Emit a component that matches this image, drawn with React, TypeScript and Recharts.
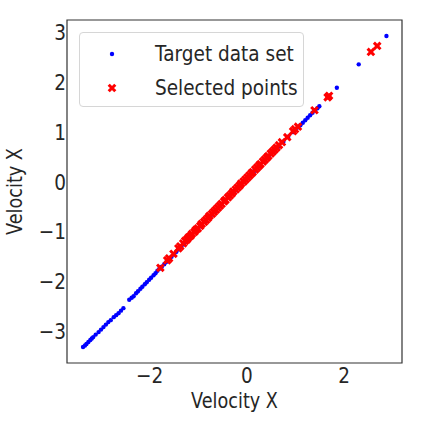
import { Legend, ReferenceArea, Scatter, ScatterChart, XAxis, YAxis } from "recharts";

// [velocity x, velocity x]
const targetPoints: [number, number][] = [
  [-3.37, -3.32], [-3.33, -3.29], [-3.3, -3.26], [-3.26, -3.22], [-3.22, -3.18],
  [-3.19, -3.15], [-3.16, -3.12], [-3.11, -3.07], [-3.05, -3.02], [-3.0, -2.97],
  [-2.95, -2.92], [-2.9, -2.87], [-2.85, -2.82], [-2.8, -2.78], [-2.74, -2.72],
  [-2.69, -2.68], [-2.64, -2.64], [-2.59, -2.59], [-2.54, -2.54], [-2.42, -2.37],
  [-2.37, -2.33], [-2.33, -2.3], [-2.28, -2.24], [-2.24, -2.2], [-2.19, -2.15],
  [-2.15, -2.11], [-2.1, -2.06], [-2.06, -2.02], [-2.01, -1.97], [-1.97, -1.93],
  [-1.92, -1.88], [-1.88, -1.84], [-1.84, -1.79], [-1.8, -1.75], [-1.75, -1.71],
  [-1.7, -1.66], [-1.65, -1.61], [-1.6, -1.56], [-1.55, -1.51], [-1.5, -1.46],
  [-1.45, -1.41], [-1.4, -1.36], [-1.35, -1.31], [-1.3, -1.26], [-1.25, -1.21],
  [-1.15, -1.1], [-1.05, -1.0], [-0.95, -0.9], [-0.85, -0.8], [-0.75, -0.7],
  [-0.65, -0.59], [-0.55, -0.49], [-0.45, -0.39], [-0.35, -0.29], [-0.25, -0.19],
  [-0.15, -0.09], [-0.05, 0.01], [0.05, 0.11], [0.15, 0.21], [0.25, 0.31],
  [0.35, 0.41], [0.45, 0.51], [0.55, 0.6], [0.65, 0.7], [0.75, 0.8],
  [0.85, 0.9], [0.95, 0.99], [1.0, 1.04], [1.05, 1.09], [1.1, 1.13],
  [1.15, 1.18], [1.2, 1.23], [1.25, 1.28], [1.3, 1.33], [1.35, 1.38],
  [1.4, 1.43], [1.45, 1.47], [1.49, 1.51], [1.85, 1.88], [2.3, 2.35],
  [2.87, 2.92],
];

const selectedPoints: [number, number][] = [
  [-1.78, -1.73], [-1.64, -1.58], [-1.6, -1.54], [-1.51, -1.45], [-1.41, -1.34],
  [-1.37, -1.3], [-1.31, -1.24], [-1.27, -1.19], [-1.23, -1.16], [-1.2, -1.12],
  [-1.16, -1.09], [-1.13, -1.05], [-1.08, -1.01], [-1.05, -0.97], [-1.01, -0.94],
  [-0.96, -0.89], [-0.93, -0.85], [-0.88, -0.81], [-0.84, -0.77], [-0.8, -0.73],
  [-0.77, -0.69], [-0.72, -0.65], [-0.68, -0.61], [-0.64, -0.57], [-0.6, -0.53],
  [-0.56, -0.49], [-0.52, -0.45], [-0.47, -0.4], [-0.44, -0.37], [-0.39, -0.32],
  [-0.35, -0.28], [-0.31, -0.24], [-0.28, -0.2], [-0.23, -0.16], [-0.19, -0.12],
  [-0.15, -0.08], [-0.12, -0.04], [-0.07, 0.0], [-0.03, 0.04], [0.01, 0.08],
  [0.05, 0.12], [0.09, 0.16], [0.12, 0.19], [0.17, 0.24], [0.21, 0.28],
  [0.25, 0.32], [0.28, 0.35], [0.33, 0.4], [0.37, 0.44], [0.41, 0.48],
  [0.44, 0.51], [0.49, 0.56], [0.53, 0.6], [0.57, 0.64], [0.61, 0.68],
  [0.66, 0.73], [0.72, 0.79], [0.83, 0.89], [0.95, 1.01], [0.99, 1.05],
  [1.05, 1.1], [1.39, 1.43], [1.66, 1.69], [1.69, 1.72], [2.55, 2.6],
  [2.68, 2.72],
];

const xTicks = [-2, 0, 2];
const yTicks = [-3, -2, -1, 0, 1, 2, 3];
const xDomain: [number, number] = [-3.7, 3.19];
const yDomain: [number, number] = [-3.64, 3.24];
const seriesNames = ["Target data set", "Selected points"];
const axisTitle = "Velocity X";

const targetData = targetPoints.map(([vx, vy]) => ({ vx, vy }));
const selectedData = selectedPoints.map(([vx, vy]) => ({ vx, vy }));

const font = "'DejaVu Sans', sans-serif";
const ink = "#262626";
const squeeze = 0.84;

const fmt = (v: number) => (v < 0 ? `\u2212${Math.abs(v)}` : `${v}`);

const XTick = (props: any) => (
  <g transform={`translate(${props.x},${props.y + 20})`}>
    <text transform={`scale(${squeeze},1)`} textAnchor="middle" fill={ink} fontSize={22} fontFamily={font}>
      {fmt(props.payload.value)}
    </text>
  </g>
);

const YTick = (props: any) => (
  <g transform={`translate(${props.x - 1},${props.y + 8})`}>
    <text transform={`scale(${squeeze},1)`} textAnchor="end" fill={ink} fontSize={22} fontFamily={font}>
      {fmt(props.payload.value)}
    </text>
  </g>
);

const XTitle = (props: any) => {
  const vb = props.viewBox;
  return (
    <g transform={`translate(${vb.x + vb.width / 2},${vb.y + 45})`}>
      <text transform={`scale(${squeeze},1)`} textAnchor="middle" fill={ink} fontSize={21} fontFamily={font}>
        {axisTitle}
      </text>
    </g>
  );
};

const YTitle = (props: any) => {
  const vb = props.viewBox;
  return (
    <g transform={`translate(22,${vb.y + vb.height / 2}) rotate(-90)`}>
      <text transform={`scale(${squeeze},1)`} textAnchor="middle" fill={ink} fontSize={21} fontFamily={font}>
        {axisTitle}
      </text>
    </g>
  );
};

const Dot = (p: any) => <circle cx={p.cx} cy={p.cy} r={2.2} fill="#0000ff" />;

const Cross = (p: any) => (
  <path
    d={`M${p.cx - 3.3},${p.cy - 3.3}L${p.cx + 3.3},${p.cy + 3.3}M${p.cx - 3.3},${p.cy + 3.3}L${p.cx + 3.3},${p.cy - 3.3}`}
    stroke="#ff0000"
    strokeWidth={3}
  />
);

const LegendBox = () => (
  <div
    style={{
      width: 223,
      height: 73,
      border: "1px solid #d6d6d6",
      borderRadius: 4,
      background: "rgba(255,255,255,0.8)",
      position: "relative",
      fontFamily: font,
      color: ink,
    }}
  >
    {seriesNames.map((name, i) => (
      <div key={name} style={{ position: "absolute", left: 0, top: i === 0 ? 4 : 38, height: 34, width: 223 }}>
        <svg width={20} height={20} style={{ position: "absolute", left: 22, top: 7 }}>
          {i === 0 ? (
            <circle cx={10} cy={10} r={2.2} fill="#0000ff" />
          ) : (
            <path d="M6.7,6.7L13.3,13.3M6.7,13.3L13.3,6.7" stroke="#ff0000" strokeWidth={3} />
          )}
        </svg>
        <span
          style={{
            position: "absolute",
            left: 75,
            top: 2,
            fontSize: 22,
            lineHeight: "30px",
            whiteSpace: "nowrap",
            transform: `scaleX(${squeeze})`,
            transformOrigin: "left center",
          }}
        >
          {name}
        </span>
      </div>
    ))}
  </div>
);

export default function App() {
  return (
    <div style={{ position: "absolute", left: 0, top: 0, background: "#fff" }}>
      <ScatterChart width={423} height={423} margin={{ top: 20, right: 21, bottom: 0, left: 0 }}>
        <XAxis
          type="number"
          dataKey="vx"
          domain={xDomain}
          ticks={xTicks}
          allowDataOverflow
          axisLine={false}
          tickLine={false}
          tickSize={0}
          tickMargin={0}
          height={60}
          tick={<XTick />}
          label={{ content: (p: any) => <XTitle {...p} /> }}
        />
        <YAxis
          type="number"
          dataKey="vy"
          domain={yDomain}
          ticks={yTicks}
          allowDataOverflow
          axisLine={false}
          tickLine={false}
          tickSize={0}
          tickMargin={0}
          width={67}
          tick={<YTick />}
          label={{ content: (p: any) => <YTitle {...p} /> }}
        />
        <ReferenceArea
          x1={xDomain[0]}
          x2={xDomain[1]}
          y1={yDomain[0]}
          y2={yDomain[1]}
          fill="none"
          fillOpacity={0}
          stroke="#333333"
          strokeWidth={1.2}
        />
        <Scatter name={seriesNames[0]} data={targetData} shape={Dot} isAnimationActive={false} />
        <Scatter name={seriesNames[1]} data={selectedData} shape={Cross} isAnimationActive={false} />
        <Legend
          layout="vertical"
          align="center"
          verticalAlign="middle"
          content={() => <LegendBox />}
          wrapperStyle={{ position: "absolute", left: 79, top: 32, width: 225 }}
        />
      </ScatterChart>
    </div>
  );
}
